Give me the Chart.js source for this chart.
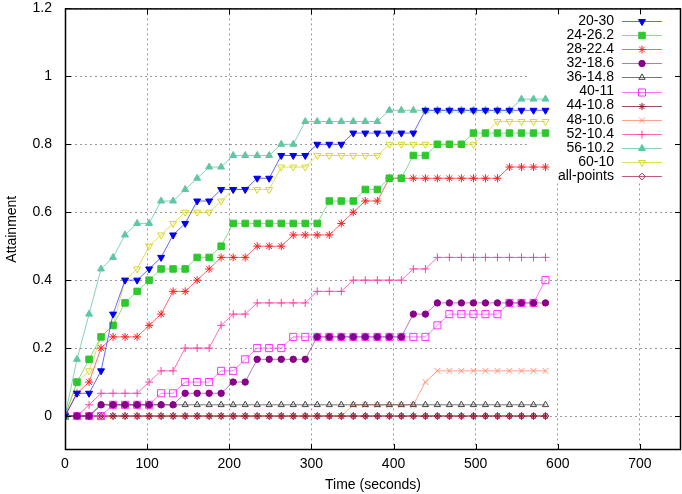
<!DOCTYPE html>
<html>
<head>
<meta charset="utf-8">
<script src="https://cdn.jsdelivr.net/npm/chart.js@4.4.0/dist/chart.umd.min.js"></script>
<style>
  html, body { margin: 0; padding: 0; background: #fff; }
  #wrap { width: 682px; height: 494px; }
</style>
</head>
<body>
<div id="wrap"><canvas id="attainmentChart" width="682" height="494"></canvas></div>
<script>
// sample times (seconds)
const times = [0, 14.6, 29.3, 43.9, 58.5, 73.1, 87.8, 102.4, 117, 131.6, 146.3, 160.9, 175.5, 190.1,
  204.8, 219.4, 234, 248.6, 263.3, 277.9, 292.5, 307.1, 321.8, 336.4, 351, 365.6, 380.3, 394.9,
  409.5, 424.1, 438.8, 453.4, 468, 482.6, 497.3, 511.9, 526.5, 541.1, 555.8, 570.4, 585];

const xTicks = [0, 100, 200, 300, 400, 500, 600, 700];
const yTicks = [0, 0.2, 0.4, 0.6, 0.8, 1, 1.2];
const yTickLabels = ["0", "0.2", "0.4", "0.6", "0.8", "1", "1.2"];

const s20_30 = [0, 0.067, 0.067, 0.133, 0.3, 0.4, 0.4, 0.433, 0.467, 0.533,
  0.567, 0.633, 0.633, 0.667, 0.667, 0.667, 0.7, 0.7, 0.767, 0.767,
  0.767, 0.8, 0.8, 0.8, 0.833, 0.833, 0.833, 0.833, 0.833, 0.833,
  0.9, 0.9, 0.9, 0.9, 0.9, 0.9, 0.9, 0.9, 0.9, 0.9, 0.9];
const s24_26 = [0, 0.1, 0.167, 0.233, 0.267, 0.333, 0.367, 0.4, 0.433, 0.433,
  0.433, 0.467, 0.467, 0.5, 0.567, 0.567, 0.567, 0.567, 0.567, 0.567,
  0.567, 0.567, 0.633, 0.633, 0.633, 0.667, 0.667, 0.7, 0.7, 0.767,
  0.767, 0.8, 0.8, 0.8, 0.833, 0.833, 0.833, 0.833, 0.833, 0.833, 0.833];
const s28_22 = [0, 0.067, 0.1, 0.2, 0.233, 0.233, 0.233, 0.267, 0.3, 0.367,
  0.367, 0.4, 0.433, 0.467, 0.467, 0.467, 0.5, 0.5, 0.5, 0.533,
  0.533, 0.533, 0.533, 0.567, 0.6, 0.633, 0.633, 0.7, 0.7, 0.7,
  0.7, 0.7, 0.7, 0.7, 0.7, 0.7, 0.7, 0.733, 0.733, 0.733, 0.733];
const s32_18 = [0, 0, 0, 0.033, 0.033, 0.033, 0.033, 0.033, 0.033, 0.033,
  0.067, 0.067, 0.067, 0.067, 0.1, 0.1, 0.167, 0.167, 0.167, 0.167,
  0.167, 0.233, 0.233, 0.233, 0.233, 0.233, 0.233, 0.233, 0.233, 0.3,
  0.3, 0.333, 0.333, 0.333, 0.333, 0.333, 0.333, 0.333, 0.333, 0.333, 0.333];
const s36_14 = [0, 0, 0, 0.033, 0.033, 0.033, 0.033, 0.033, 0.033, 0.033,
  0.033, 0.033, 0.033, 0.033, 0.033, 0.033, 0.033, 0.033, 0.033, 0.033,
  0.033, 0.033, 0.033, 0.033, 0.033, 0.033, 0.033, 0.033, 0.033, 0.033,
  0.033, 0.033, 0.033, 0.033, 0.033, 0.033, 0.033, 0.033, 0.033, 0.033, 0.033];
const s40_11 = [0, 0, 0, 0, 0.033, 0.033, 0.033, 0.033, 0.067, 0.067,
  0.1, 0.1, 0.1, 0.133, 0.133, 0.167, 0.2, 0.2, 0.2, 0.233,
  0.233, 0.233, 0.233, 0.233, 0.233, 0.233, 0.233, 0.233, 0.233, 0.233,
  0.233, 0.267, 0.3, 0.3, 0.3, 0.3, 0.3, 0.333, 0.333, 0.333, 0.4];
const s44_10 = [0, 0, 0, 0, 0, 0, 0, 0, 0, 0, 0, 0, 0, 0, 0, 0, 0, 0, 0, 0,
  0, 0, 0, 0, 0, 0, 0, 0, 0, 0, 0, 0, 0, 0, 0, 0, 0, 0, 0, 0, 0];
const s48_10 = [0, 0, 0, 0, 0, 0, 0, 0, 0, 0, 0, 0, 0, 0, 0, 0, 0, 0, 0, 0,
  0, 0, 0, 0, 0.033, 0.033, 0.033, 0.033, 0.033, 0.033,
  0.1, 0.133, 0.133, 0.133, 0.133, 0.133, 0.133, 0.133, 0.133, 0.133, 0.133];
const s52_10 = [0, 0, 0.033, 0.067, 0.067, 0.067, 0.067, 0.1, 0.133, 0.133,
  0.2, 0.2, 0.2, 0.267, 0.3, 0.3, 0.333, 0.333, 0.333, 0.333,
  0.333, 0.367, 0.367, 0.367, 0.4, 0.4, 0.4, 0.4, 0.4, 0.433,
  0.433, 0.467, 0.467, 0.467, 0.467, 0.467, 0.467, 0.467, 0.467, 0.467, 0.467];
const s56_10 = [0, 0.167, 0.3, 0.433, 0.467, 0.533, 0.567, 0.567, 0.633, 0.633,
  0.667, 0.7, 0.733, 0.733, 0.767, 0.767, 0.767, 0.767, 0.8, 0.8,
  0.867, 0.867, 0.867, 0.867, 0.867, 0.867, 0.867, 0.9, 0.9, 0.9,
  0.9, 0.9, 0.9, 0.9, 0.9, 0.9, 0.9, 0.9, 0.933, 0.933, 0.933];
const s60_10 = [0, 0.1, 0.133, 0.233, 0.267, 0.4, 0.433, 0.5, 0.533, 0.567,
  0.6, 0.6, 0.6, 0.633, 0.667, 0.667, 0.667, 0.667, 0.733, 0.733,
  0.733, 0.767, 0.767, 0.767, 0.767, 0.767, 0.767, 0.8, 0.8, 0.8,
  0.8, 0.8, 0.8, 0.8, 0.8, 0.833, 0.867, 0.867, 0.867, 0.867, 0.867];
const sAll = [0, 0, 0, 0, 0, 0, 0, 0, 0, 0, 0, 0, 0, 0, 0, 0, 0, 0, 0, 0,
  0, 0, 0, 0, 0, 0, 0, 0, 0, 0, 0, 0, 0, 0, 0, 0, 0, 0, 0, 0, 0];

const seriesLabels = ["20-30", "24-26.2", "28-22.4", "32-18.6", "36-14.8", "40-11",
  "44-10.8", "48-10.6", "52-10.4", "56-10.2", "60-10", "all-points"];
const seriesValues = [s20_30, s24_26, s28_22, s32_18, s36_14, s40_11,
  s44_10, s48_10, s52_10, s56_10, s60_10, sAll];

// color, line color, point style, radius, filled, rotation
const styles = [
  ["#0000ee", "rgba(40,40,255,0.7)", "triangle", 4, true, 180],
  ["#2ec82e", "rgba(60,200,60,0.6)", "rect", 4.6, true, 0],
  ["#ff2020", "rgba(255,40,40,0.7)", "star", 4, false, 0],
  ["#880088", "rgba(140,30,140,0.6)", "circle", 3.2, true, 0],
  ["#404040", "rgba(60,60,60,0.7)", "triangle", 3.6, false, 0],
  ["#ff30ff", "rgba(255,60,255,0.7)", "rect", 5, false, 0],
  ["#8b1a2a", "rgba(140,30,45,0.8)", "star", 3.6, false, 0],
  ["#ff8c70", "rgba(255,140,110,0.8)", "crossRot", 4, false, 0],
  ["#ff3fa8", "rgba(255,70,170,0.8)", "cross", 4, false, 0],
  ["#60c8a0", "rgba(100,200,165,0.8)", "triangle", 4, true, 0],
  ["#d8d82a", "rgba(215,215,50,0.8)", "triangle", 4, false, 180],
  ["#b03060", "rgba(170,50,95,0.8)", "rectRot", 3.4, false, 0]
];

const plotLeft = 65, plotTop = 8, plotRight = 681, plotBottom = 450;
const fontFamily = "'Liberation Sans', Arial, sans-serif";

const datasets = seriesLabels.map((label, i) => {
  const st = styles[i];
  return {
    label: label,
    data: times.map((t, j) => ({ x: t, y: seriesValues[i][j] })),
    borderColor: st[1],
    borderWidth: 1,
    pointStyle: st[2],
    pointRadius: st[3],
    pointRotation: st[5],
    pointBorderColor: st[0],
    pointBorderWidth: 1,
    pointBackgroundColor: st[4] ? st[0] : "rgba(0,0,0,0)",
    showLine: true,
    fill: false,
    tension: 0
  };
});

const frameAndKey = {
  id: "frameAndKey",
  beforeDatasetsDraw(chart) {
    const ctx = chart.ctx;
    const a = chart.chartArea;
    // opaque key area
    ctx.save();
    ctx.fillStyle = "#fff";
    ctx.fillRect(529, a.top + 1, a.right - 529 - 1, 181 - a.top);
    ctx.restore();
  },
  afterDatasetsDraw(chart) {
    const ctx = chart.ctx;
    const a = chart.chartArea;
    const xs = chart.scales.x, ys = chart.scales.y;
    ctx.save();
    ctx.strokeStyle = "#000";
    ctx.lineWidth = 1;
    ctx.beginPath();
    xTicks.forEach(v => {
      const px = Math.round(xs.getPixelForValue(v)) + 0.5;
      ctx.moveTo(px, a.bottom); ctx.lineTo(px, a.bottom - 6);
      ctx.moveTo(px, a.top); ctx.lineTo(px, a.top + 6);
    });
    yTicks.forEach(v => {
      const py = Math.round(ys.getPixelForValue(v)) + 0.5;
      ctx.moveTo(a.left, py); ctx.lineTo(a.left + 6, py);
      ctx.moveTo(a.right, py); ctx.lineTo(a.right - 6, py);
    });
    ctx.stroke();
    ctx.lineWidth = 1.5;
    ctx.strokeRect(a.left + 0.5, a.top + 0.5, a.right - a.left - 1, a.bottom - a.top - 1);

    // key
    ctx.font = "14px " + fontFamily;
    ctx.textAlign = "right";
    ctx.textBaseline = "middle";
    chart.data.datasets.forEach((ds, i) => {
      const y = 21 + i * 14.1;
      ctx.fillStyle = "#000";
      ctx.fillText(ds.label, 614, y);
      ctx.strokeStyle = ds.borderColor;
      ctx.lineWidth = 1;
      ctx.beginPath();
      ctx.moveTo(622, Math.round(y) + 0.5);
      ctx.lineTo(662, Math.round(y) + 0.5);
      ctx.stroke();
      if (Chart.helpers && Chart.helpers.drawPoint) {
        ctx.strokeStyle = ds.pointBorderColor;
        ctx.fillStyle = ds.pointBackgroundColor;
        ctx.lineWidth = 1;
        Chart.helpers.drawPoint(ctx, {
          pointStyle: ds.pointStyle,
          radius: ds.pointRadius,
          rotation: ds.pointRotation,
          borderWidth: 1
        }, 642, Math.round(y) + 0.5);
      }
    });
    ctx.restore();
  }
};

new Chart(document.getElementById("attainmentChart").getContext("2d"), {
  type: "line",
  data: { datasets: datasets },
  options: {
    responsive: false,
    animation: false,
    devicePixelRatio: 1,
    layout: {
      autoPadding: false,
      padding: { top: plotTop, right: 682 - plotRight, left: 0, bottom: 0 }
    },
    plugins: {
      legend: { display: false },
      tooltip: { enabled: false }
    },
    scales: {
      x: {
        type: "linear",
        min: 0,
        max: 750,
        afterBuildTicks: s => { s.ticks = xTicks.map(v => ({ value: v })); },
        afterFit: s => { s.height = 494 - plotBottom; },
        ticks: {
          padding: 0,
          color: "#000",
          font: { family: fontFamily, size: 14 },
          maxRotation: 0,
          callback: v => String(v)
        },
        grid: { color: "#9a9a9a", lineWidth: 1, drawTicks: true, tickLength: 6, tickColor: "rgba(0,0,0,0)" },
        border: { display: false, dash: [2, 3] },
        title: {
          display: true,
          text: "Time (seconds)",
          color: "#000",
          font: { family: fontFamily, size: 14 },
          padding: { top: 0, bottom: 0 }
        }
      },
      y: {
        min: -0.1,
        max: 1.2,
        afterBuildTicks: s => { s.ticks = yTicks.map(v => ({ value: v })); },
        afterFit: s => { s.width = plotLeft; },
        ticks: {
          padding: 0,
          color: "#000",
          font: { family: fontFamily, size: 14 },
          callback: (v, idx) => yTickLabels[idx]
        },
        grid: { color: "#9a9a9a", lineWidth: 1, drawTicks: true, tickLength: 13, tickColor: "rgba(0,0,0,0)" },
        border: { display: false, dash: [2, 3] },
        title: {
          display: true,
          text: "Attainment",
          color: "#000",
          font: { family: fontFamily, size: 14 },
          padding: { top: 4, bottom: 0 }
        }
      }
    }
  },
  plugins: [frameAndKey]
});
</script>
</body>
</html>
